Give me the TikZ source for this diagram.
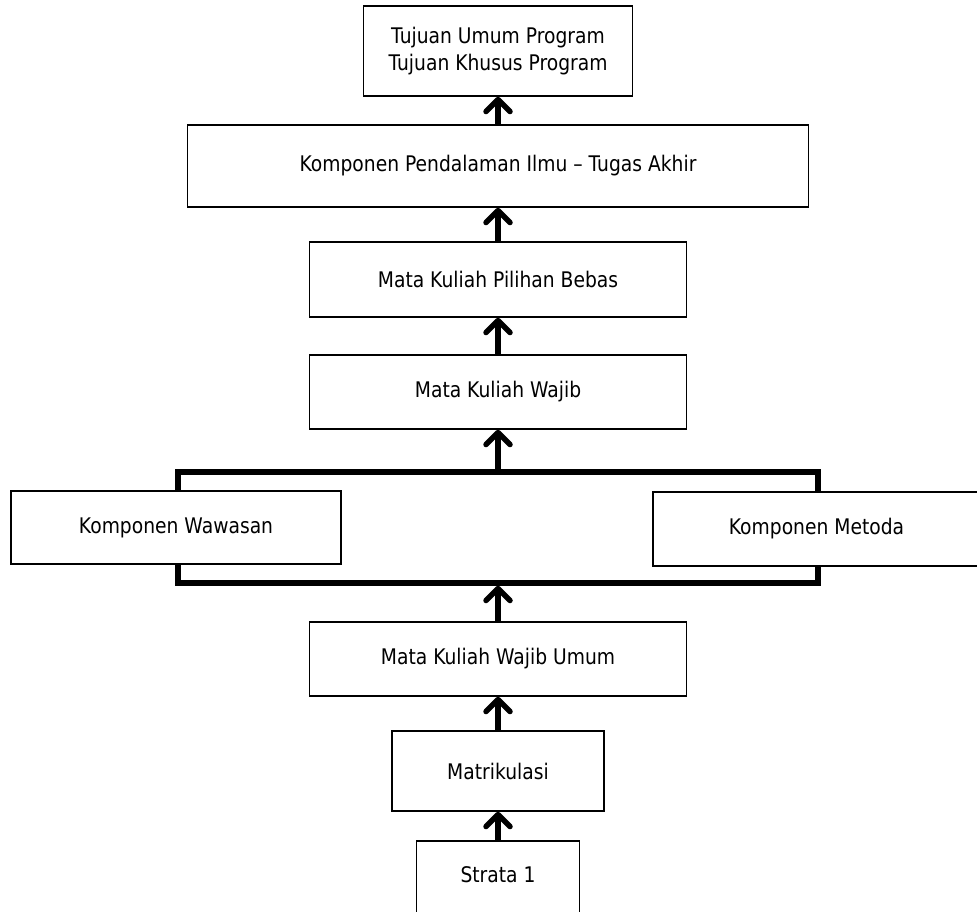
\documentclass[tikz,border=0pt]{standalone}
\usepackage{fontspec}
\setmainfont[FakeStretch=0.87]{DejaVu Sans}
\usetikzlibrary{arrows.meta}
\begin{document}
\begin{tikzpicture}[x=1pt,y=-1pt,
  box/.style={draw, line width=1.6pt, fill=white, inner sep=0pt, align=center,
    font=\fontsize{21.5}{27}\selectfont},
  bracketbox/.style={draw, line width=5.5pt, inner sep=0pt},
  uparrow/.style={line width=5.5pt, -{Straight Barb[length=12pt,width=24pt,round]}}]
\useasboundingbox (0,0) rectangle (977,912);
\node[box, minimum width=269pt, minimum height=90pt] (tujuan) at (498,51) {Tujuan Umum Program\\Tujuan Khusus Program};
\node[box, minimum width=621pt, minimum height=82pt] (pendalaman) at (498,166) {Komponen Pendalaman Ilmu – Tugas Akhir};
\node[box, minimum width=377pt, minimum height=75pt] (pilihan) at (498,279.5) {Mata Kuliah Pilihan Bebas};
\node[box, minimum width=377pt, minimum height=74pt] (wajib) at (498,392) {Mata Kuliah Wajib};
\node[bracketbox, minimum width=640pt, minimum height=111pt] (bracket) at (498,527.5) {};
\node[box, minimum width=330pt, minimum height=73pt] (wawasan) at (176,527.5) {Komponen Wawasan};
\node[box, minimum width=327pt, minimum height=74pt] (metoda) at (816.5,529) {Komponen Metoda};
\node[box, minimum width=377pt, minimum height=74pt] (wajibumum) at (498,659) {Mata Kuliah Wajib Umum};
\node[box, minimum width=212pt, minimum height=80pt] (matrikulasi) at (498,771) {Matrikulasi};
\node[box, anchor=base, minimum width=163pt, text height=16pt, text depth=34pt, inner ysep=25pt] (strata) at (498,882) {Strata 1};
\draw[uparrow] (strata.north) -- (matrikulasi.south);
\draw[uparrow] (matrikulasi.north) -- (wajibumum.south);
\draw[uparrow] (wajibumum.north) -- (bracket.south);
\draw[uparrow] (bracket.north) -- (wajib.south);
\draw[uparrow] (wajib.north) -- (pilihan.south);
\draw[uparrow] (pilihan.north) -- (pendalaman.south);
\draw[uparrow] (pendalaman.north) -- (tujuan.south);
\end{tikzpicture}
\end{document}
